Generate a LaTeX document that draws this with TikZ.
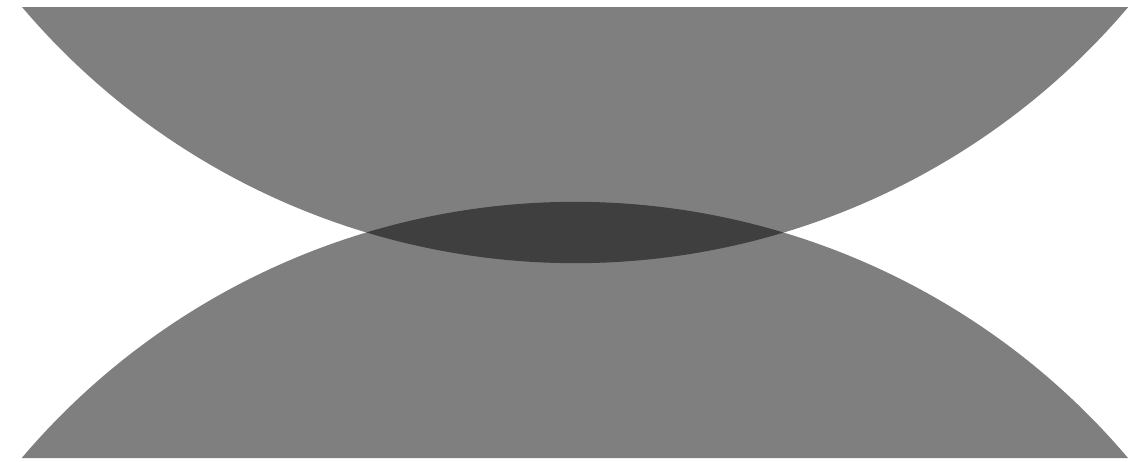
\documentclass[tikz,border=0pt]{standalone}

\begin{document}
\begin{tikzpicture}[x=0.02cm, y=0.02cm]
  % radius and angles of the two lens caps
  \pgfmathsetmacro{\rad}{725.3}
  \pgfmathsetmacro{\ang}{40.3}

  % frame
  \fill[white] (0,0) rectangle (1139,461);

  % upper cap (chord on top)
  \fill[black, opacity=0.5] (22,454) arc ({180+\ang}:{360-\ang}:\rad) -- cycle;

  % lower cap (chord at the bottom)
  \fill[black, opacity=0.5] (1128,3) arc (\ang:{180-\ang}:\rad) -- cycle;
\end{tikzpicture}
\end{document}
